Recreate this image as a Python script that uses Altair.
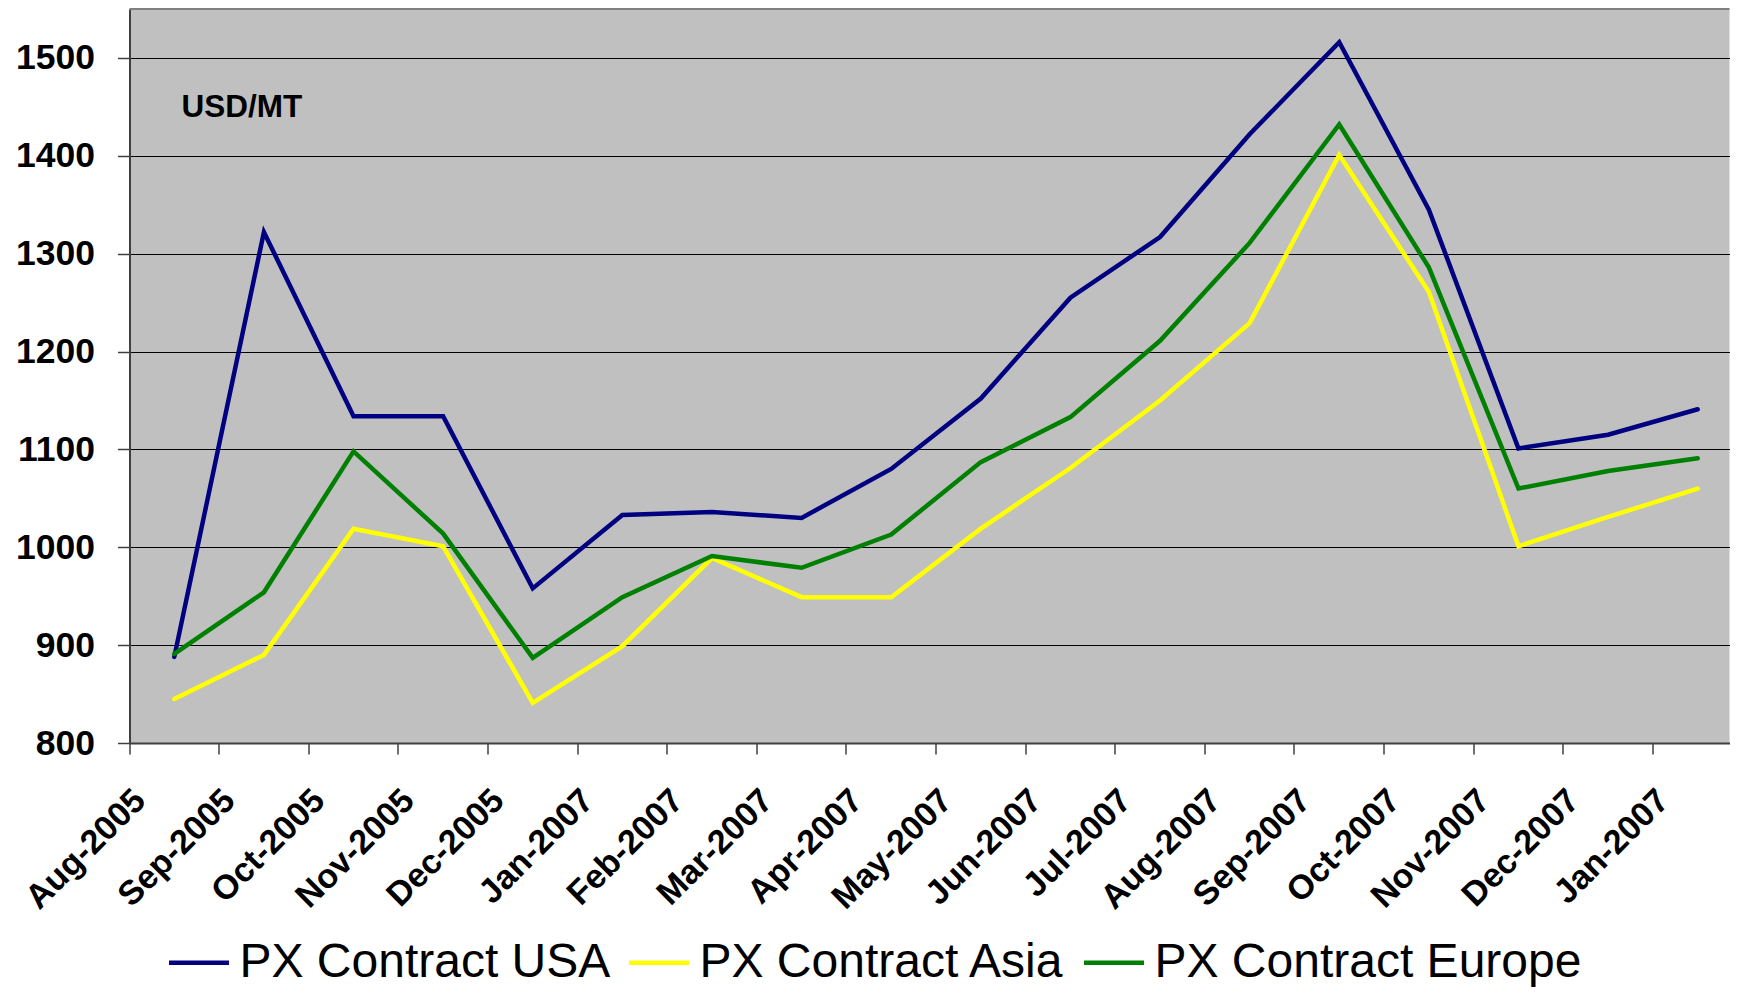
import json
import altair as alt
import pandas as pd

months = ["Aug-2005", "Sep-2005", "Oct-2005", "Nov-2005", "Dec-2005", "Jan-2007",
          "Feb-2007", "Mar-2007", "Apr-2007", "May-2007", "Jun-2007", "Jul-2007",
          "Aug-2007", "Sep-2007", "Oct-2007", "Nov-2007", "Dec-2007", "Jan-2007"]

usa = [888, 1322, 1134, 1134, 958, 1033, 1036, 1030, 1080, 1152, 1255, 1317,
       1422, 1516, 1345, 1101, 1115, 1141]
asia = [845, 890, 1019, 1001, 841, 899, 989, 949, 949, 1019, 1081, 1150,
        1229, 1401, 1261, 1001, 1031, 1060]
europe = [891, 954, 1098, 1014, 887, 949, 991, 979, 1013, 1087, 1133, 1211,
          1311, 1432, 1286, 1060, 1078, 1091]

series_names = ["PX Contract USA", "PX Contract Asia", "PX Contract Europe"]
series_colors = ["#000080", "#FFFF00", "#008000"]
y_ticks = [800, 900, 1000, 1100, 1200, 1300, 1400, 1500]

rows = []
for name, vals in zip(series_names, [usa, asia, europe]):
    for i, v in enumerate(vals):
        rows.append({"idx": i, "month": months[i], "series": name, "value": v})
df = pd.DataFrame(rows)

FONT = "Liberation Sans"
W, H = 1600, 734

label_expr = json.dumps(months) + "[datum.value]"

x_enc = alt.X(
    "idx:O",
    bandPosition=0.5,
    scale=alt.Scale(type="band", paddingInner=0, paddingOuter=0, range=[0, 1613]),
    axis=alt.Axis(
        title=None,
        labelExpr=label_expr,
        bandPosition=0,
        labelAngle=-45,
        labelAlign="right",
        labelBaseline="middle",
        labelOffset=-34,
        labelPadding=41,
        labelFont=FONT,
        labelFontSize=34,
        labelFontWeight="bold",
        labelColor="#000000",
        labelOverlap=False,
        labelBound=False,
        labelFlush=False,
        labelLimit=0,
        tickSize=11,
        tickColor="#404040",
        tickWidth=1.5,
        domainColor="#404040",
        domainWidth=2,
        grid=False,
    ),
)

y_enc = alt.Y(
    "value:Q",
    scale=alt.Scale(domain=[800, 1550], nice=False, zero=False),
    axis=alt.Axis(
        title=None,
        values=y_ticks,
        format="d",
        labelFont=FONT,
        labelFontSize=35.5,
        labelFontWeight="bold",
        labelColor="#000000",
        labelPadding=23,
        tickSize=12,
        tickColor="#404040",
        tickWidth=1.5,
        domainColor="#404040",
        domainWidth=2,
        grid=True,
        gridColor="#000000",
        gridWidth=1,
    ),
)

color_enc = alt.Color(
    "series:N",
    scale=alt.Scale(domain=series_names, range=series_colors),
    legend=alt.Legend(
        title=None,
        orient="none",
        direction="horizontal",
        legendX=37,
        legendY=921,
        padding=0,
        symbolType="stroke",
        symbolSize=3600,
        symbolStrokeWidth=4.5,
        labelFont=FONT,
        labelFontSize=48,
        labelColor="#000000",
        labelOffset=8,
        labelLimit=0,
        columnPadding=9,
    ),
)

layers = []
for name in series_names:
    layers.append(
        alt.Chart(df)
        .transform_filter(alt.datum.series == name)
        .mark_line(strokeWidth=4.5, strokeCap="round", strokeJoin="miter")
        .encode(x=x_enc, y=y_enc, color=color_enc)
    )

one = pd.DataFrame({"t": ["USD/MT"]})
unit_text = (
    alt.Chart(one)
    .mark_text(font=FONT, fontSize=31.5, fontWeight="bold", align="left",
               baseline="alphabetic", color="#000000")
    .encode(text="t:N", x=alt.value(52), y=alt.value(108))
)
top_border = (
    alt.Chart(one)
    .mark_rule(color="#808080", strokeWidth=2)
    .encode(x=alt.value(0), x2=alt.value(W), y=alt.value(0))
)

chart = (
    alt.layer(top_border, *layers, unit_text)
    .properties(
        width=W,
        height=H,
        autosize=alt.AutoSizeParams(type="none"),
        padding={"left": 121.5, "top": 1, "right": 0.5, "bottom": 247},
        background="#FFFFFF",
    )
    .configure_view(fill="#C0C0C0", stroke=None)
)

chart.save("out.html", embed_options={"renderer": "svg", "actions": False})
